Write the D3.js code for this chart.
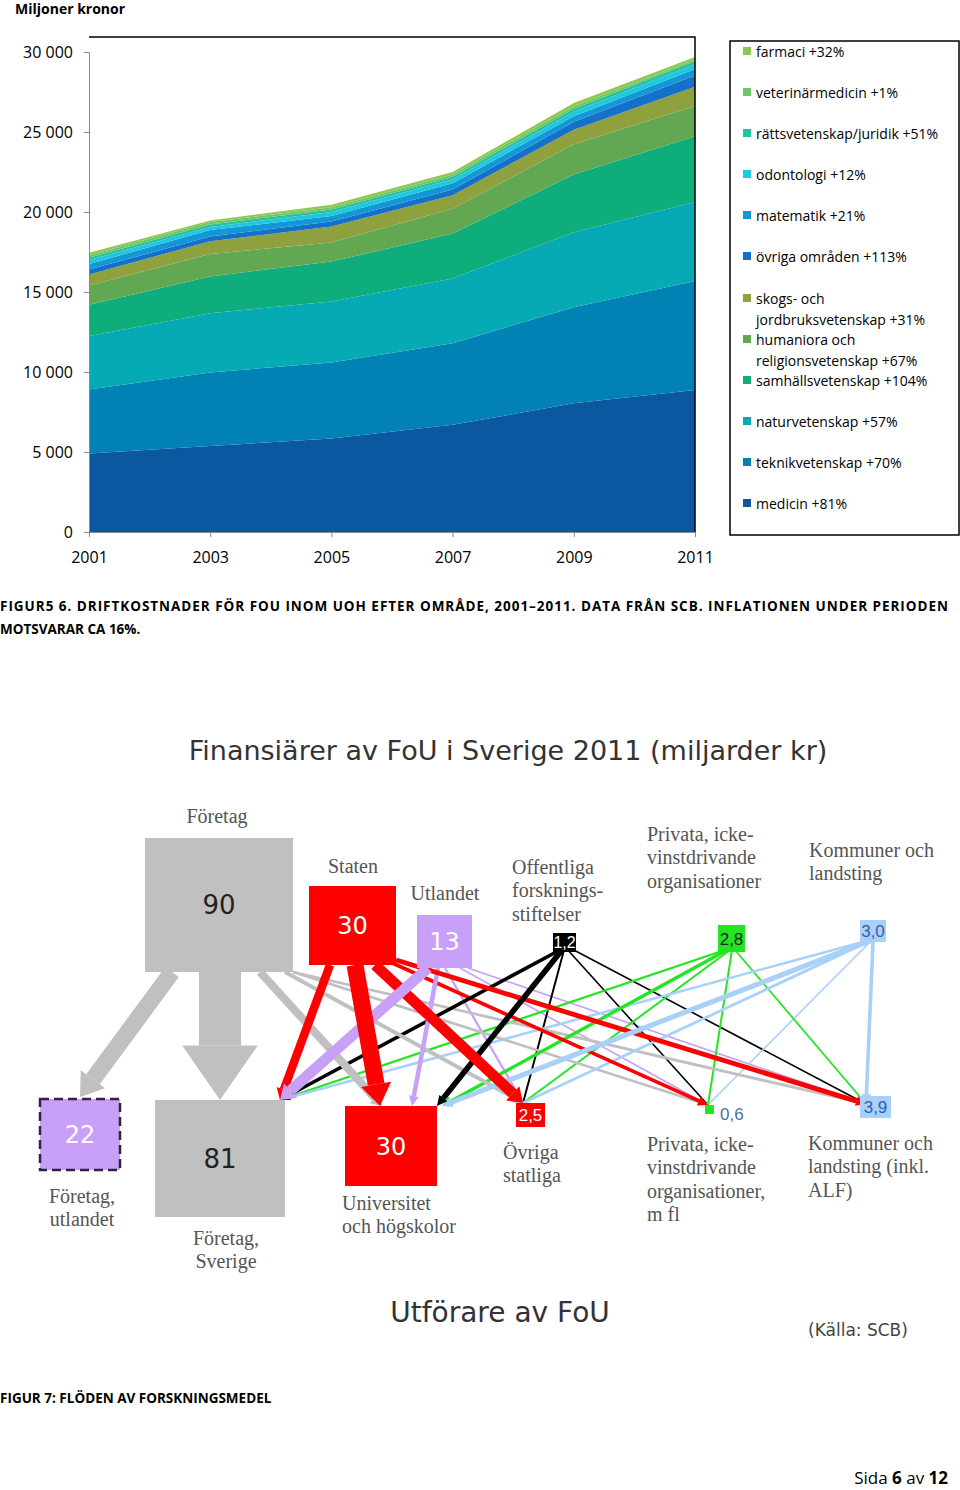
<!DOCTYPE html>
<html><head><meta charset="utf-8">
<script src="https://cdn.jsdelivr.net/npm/d3@7"></script>
<style>body{margin:0;background:#fff}svg{display:block}</style>
</head><body>
<svg id="c" width="960" height="1490"></svg>
<script>
// ---------- Area chart data ----------
const years = [2001, 2003, 2005, 2007, 2009, 2011];
const areaSeries = ["medicin","teknikvetenskap","naturvetenskap","samhällsvetenskap","humaniora","skogs","övriga","matematik","odontologi","rättsvetenskap","veterinärmedicin","farmaci"];
const medicin      = [4900, 5370, 5850, 6700, 8040, 8880];
const teknik       = [4000, 4600, 4750, 5100, 6000, 6800];
const natur        = [3350, 3700, 3800, 4050, 4700, 4950];
const samhall      = [1950, 2300, 2500, 2800, 3600, 4100];
const humaniora    = [1200, 1400, 1200, 1550, 1900, 1900];
const skogs        = [700, 800, 1000, 850, 900, 1200];
const ovriga       = [300, 300, 300, 350, 500, 700];
const matematik    = [350, 400, 350, 400, 350, 400];
const odontologi   = [250, 200, 250, 250, 270, 300];
const ratts        = [150, 150, 150, 150, 200, 200];
const veterinar    = [150, 150, 150, 150, 150, 100];
const farmaci      = [150, 100, 150, 150, 200, 150];
const seriesValues = [medicin, teknik, natur, samhall, humaniora, skogs, ovriga, matematik, odontologi, ratts, veterinar, farmaci];
const areaColors = ["#0b57a0","#0181b4","#06aab5","#0ead7b","#62a853","#8fa03f","#1470c8","#1497d6","#1ec8e0","#28c0a0","#6ec66a","#8fc850"];
const yTicks = [0, 5000, 10000, 15000, 20000, 25000, 30000];
const legendLabels = [["farmaci +32%"],["veterinärmedicin +1%"],["rättsvetenskap/juridik +51%"],["odontologi +12%"],["matematik +21%"],["övriga områden +113%"],["skogs- och","jordbruksvetenskap +31%"],["humaniora och","religionsvetenskap +67%"],["samhällsvetenskap +104%"],["naturvetenskap +57%"],["teknikvetenskap +70%"],["medicin +81%"]];

// ---------- Flow diagram data ----------
const funders = ["Företag","Staten","Utlandet","Offentliga","Privata","Kommuner"];
const funderValues = ["90","30","13","1,2","2,8","3,0"];
const performers = ["FöretagUtl","FöretagSve","Universitet","Övriga","PrivataP","KommunerP"];
const performerValues = ["22","81","30","2,5","0,6","3,9"];
// flows[funder][performer] in miljarder kr (estimated)
const flows = [
  [11, 68, 2.5, 0.6, 0.3, 0.3],
  [0, 2.8, 11, 4.5, 0.5, 0.9],
  [0, 4.5, 0.8, 0.2, 0.1, 0.1],
  [0, 0.5, 1.2, 0.15, 0.1, 0.1],
  [0, 0.2, 0.45, 0.15, 0.15, 0.12],
  [0, 0.25, 1.0, 0.3, 0.1, 0.5]
];
const funderColors = ["#c0c0c0","#ff0000","#c8a0f8","#000000","#22e622","#a8d0f8"];
const performerColors = ["#c8a0f8","#c0c0c0","#ff0000","#ff0000","#22e622","#a8d0f8"];

const svg = d3.select("#c");
const F = "'Open Sans','Liberation Sans',sans-serif";

// ---------- Area chart ----------
const x = d3.scaleLinear().domain([2001, 2011]).range([89, 695]);
const y = d3.scaleLinear().domain([0, 30000]).range([532, 52]);
const table = years.map((yr, i) => { const o = {year: yr}; areaSeries.forEach((s, k) => o[s] = seriesValues[k][i]); return o; });
const stack = d3.stack().keys(areaSeries)(table);
const area = d3.area().x(d => x(d.data.year)).y0(d => y(d[0])).y1(d => y(d[1]));
svg.append("g").selectAll("path").data(stack).join("path").attr("d", area).attr("fill", (d, i) => areaColors[i]);

svg.append("text").attr("x", 15).attr("y", 14).attr("font-family", F).attr("font-weight", "bold").attr("font-size", 14).text("Miljoner kronor");
svg.append("path").attr("d", `M89,37H695V532`).attr("fill", "none").attr("stroke", "#000").attr("stroke-width", 1.5);
const ya = svg.append("g").attr("transform", "translate(89,0)").call(d3.axisLeft(y).tickValues(yTicks).tickSize(5).tickFormat(d => d3.format(",")(d).replace(",", " ")));
ya.select(".domain").attr("stroke", "#888");
ya.selectAll("line").attr("stroke", "#888");
ya.selectAll("text").attr("font-family", F).attr("font-size", 16).attr("fill", "#000").attr("x", -16);
const xa = svg.append("g").attr("transform", "translate(0,532)").call(d3.axisBottom(x).tickValues(years).tickSize(5).tickFormat(d3.format("d")));
xa.select(".domain").attr("stroke", "#888");
xa.selectAll("line").attr("stroke", "#888");
xa.selectAll("text").attr("font-family", F).attr("font-size", 16).attr("fill", "#000").attr("dy", "1.45em");

svg.append("rect").attr("x", 730).attr("y", 41).attr("width", 229).attr("height", 494).attr("fill", "none").attr("stroke", "#000").attr("stroke-width", 1.5);
const legY = [51, 92, 133, 174, 215, 256, 298, 339, 380, 421, 462, 503];
legendLabels.forEach((lines, i) => {
  const ci = areaSeries.length - 1 - i;
  svg.append("rect").attr("x", 743).attr("y", legY[i] - 4).attr("width", 8).attr("height", 8).attr("fill", areaColors[ci]);
  lines.forEach((t, j) => svg.append("text").attr("x", 756).attr("y", legY[i] + 6 + j * 21).attr("font-family", F).attr("font-size", 14).text(t));
});

svg.append("text").attr("x", 0).attr("y", 611).attr("font-family", F).attr("font-weight", "bold").attr("font-size", 13.5).attr("textLength", 948).attr("lengthAdjust", "spacing")
  .text("FIGUR5 6. DRIFTKOSTNADER FÖR FOU INOM UOH EFTER OMRÅDE, 2001–2011. DATA FRÅN SCB. INFLATIONEN UNDER PERIODEN");
svg.append("text").attr("x", 0).attr("y", 634).attr("font-family", F).attr("font-weight", "bold").attr("font-size", 13.5).text("MOTSVARAR CA 16%.");

// ---------- Flow diagram ----------
const fBox = [[145,838,148,134],[309,886,87,79],[417,915,55,53],[553,933,23,19],[718,925,27,27],[860,920,26,22]];
const pBox = [[40,1099,80,71],[155,1100,130,117],[345,1106,92,80],[516,1103,29,24],[705,1105,9,9],[860,1096,31,22]];
const fOut = [[[172,972],[217,972],[260,972],[285,972],[293,972],[293,972]],
  [[0,0],[330,965],[355,965],[375,965],[390,962],[396,960]],
  [[0,0],[428,968],[438,968],[445,968],[460,968],[468,968]],
  [[0,0],[560,950],[562,950],[564,950],[566,948],[570,948]],
  [[0,0],[725,950],[727,950],[730,950],[732,950],[735,950]],
  [[0,0],[870,940],[872,940],[872,940],[872,940],[873,942]]];
const pIn = [[80,1099],[225,1100],[382,1106],[523,1103],[708,1105],[868,1100]];
const w = d3.scaleSqrt().domain([0, 68]).range([0, 42]);
const g = svg.append("g");
const linkData = [];
flows.forEach((row, i) => row.forEach((v, j) => { if (v > 0) linkData.push({i, j, v}); }));
linkData.sort((a, b) => a.v - b.v);
linkData.forEach(({i, j, v}) => {
  let [x1, y1] = fOut[i][j];
  let [x2, y2] = pIn[j];
  if (i === 0 && j === 1) { x1 = 220; }
  if (j === 1) x2 = 220 + (i === 0 ? 0 : 60);
  if (j === 2) x2 = 382 + [0, -2, 30, 55, 60, 60][i];
  if (j === 5) { x2 = 866; y2 = 1104; }
  if (j === 0) { x2 = 80; y2 = 1097; }
  let sw = Math.max(1, w(v));
  const col = funderColors[i];
  const dx = x2 - x1, dy = y2 - y1, L = Math.hypot(dx, dy), ux = dx / L, uy = dy / L;
  const arrow = sw >= 3;
  const ah = arrow ? Math.max(10, sw * 1.3) : 0, aw = arrow ? Math.max(sw * 1.8, 10) : 0;
  const ex = x2 - ux * ah, ey = y2 - uy * ah;
  g.append("line").attr("x1", x1).attr("y1", y1).attr("x2", ex).attr("y2", ey).attr("stroke", col).attr("stroke-width", sw).attr("opacity", sw < 1.5 ? 0.7 : 1);
  if (arrow) {
    const px = -uy, py = ux;
    g.append("polygon").attr("points", [[x2, y2], [ex + px * aw / 2, ey + py * aw / 2], [ex - px * aw / 2, ey - py * aw / 2]].map(p => p.join(",")).join(" ")).attr("fill", col);
  }
});

const SER = "'Liberation Serif','DejaVu Serif',serif";
const SAN = "'DejaVu Sans','Liberation Sans',sans-serif";
const NAR = "'Liberation Sans Narrow','Liberation Sans',sans-serif";
const numCol = ["#222","#fff","#fff","#fff","#222","#3060b0"];
fBox.forEach((b, i) => {
  svg.append("rect").attr("x", b[0]).attr("y", b[1]).attr("width", b[2]).attr("height", b[3]).attr("fill", funderColors[i]);
  const fs = [26, 24, 24, 16, 17, 17][i];
  svg.append("text").attr("x", b[0] + b[2] / 2).attr("y", b[1] + b[3] / 2 + fs * 0.36).attr("text-anchor", "middle").attr("font-family", i >= 3 ? NAR : SAN).attr("font-size", fs)
    .attr("fill", numCol[i]).text(funderValues[i]);
});
const pNumCol = ["#fff","#222","#fff","#fff","#5070a0","#3060b0"];
pBox.forEach((b, i) => {
  svg.append("rect").attr("x", b[0]).attr("y", b[1]).attr("width", b[2]).attr("height", b[3]).attr("fill", performerColors[i])
    .attr("stroke", i === 0 ? "#332244" : null).attr("stroke-width", i === 0 ? 2.5 : 0).attr("stroke-dasharray", i === 0 ? "9,5" : null);
  const fs = [24, 26, 24, 17, 17, 17][i];
  if (i === 4) {
    svg.append("text").attr("x", 720).attr("y", 1120).attr("font-family", NAR).attr("font-size", fs).attr("fill", pNumCol[i]).text(performerValues[i]);
  } else {
    svg.append("text").attr("x", b[0] + b[2] / 2).attr("y", b[1] + b[3] / 2 + fs * 0.36).attr("text-anchor", "middle").attr("font-family", i >= 3 ? NAR : SAN).attr("font-size", fs)
      .attr("fill", pNumCol[i]).text(performerValues[i]);
  }
});

const labels = [
  [["Företag"], 217, 823, "middle"],
  [["Staten"], 353, 873, "middle"],
  [["Utlandet"], 445, 900, "middle"],
  [["Offentliga","forsknings-","stiftelser"], 512, 874, "start"],
  [["Privata, icke-","vinstdrivande","organisationer"], 647, 841, "start"],
  [["Kommuner och","landsting"], 809, 857, "start"],
  [["Företag,","utlandet"], 82, 1203, "middle"],
  [["Företag,","Sverige"], 226, 1245, "middle"],
  [["Universitet","och högskolor"], 342, 1210, "start"],
  [["Övriga","statliga"], 503, 1159, "start"],
  [["Privata, icke-","vinstdrivande","organisationer,","m fl"], 647, 1151, "start"],
  [["Kommuner och","landsting (inkl.","ALF)"], 808, 1150, "start"]
];
labels.forEach(([lines, lx, ly, anc]) => lines.forEach((t, k) =>
  svg.append("text").attr("x", lx).attr("y", ly + k * 23.3).attr("text-anchor", anc).attr("font-family", SER).attr("font-size", 20).attr("fill", "#555").text(t)));

svg.append("text").attr("x", 508).attr("y", 760).attr("text-anchor", "middle").attr("font-family", SAN).attr("font-size", 27).attr("fill", "#333").text("Finansiärer av FoU i Sverige 2011 (miljarder kr)");
svg.append("text").attr("x", 500).attr("y", 1322).attr("text-anchor", "middle").attr("font-family", SAN).attr("font-size", 28).attr("fill", "#333").text("Utförare av FoU");
svg.append("text").attr("x", 858).attr("y", 1336).attr("text-anchor", "middle").attr("font-family", SAN).attr("font-size", 17).attr("fill", "#444").text("(Källa: SCB)");

svg.append("text").attr("x", 0).attr("y", 1403).attr("font-family", F).attr("font-weight", "bold").attr("font-size", 13.5).text("FIGUR 7: FLÖDEN AV FORSKNINGSMEDEL");
const pg = svg.append("text").attr("x", 948).attr("y", 1484).attr("text-anchor", "end").attr("font-family", F).attr("font-size", 17);
pg.append("tspan").text("Sida ");
pg.append("tspan").attr("font-weight", "bold").text("6");
pg.append("tspan").text(" av ");
pg.append("tspan").attr("font-weight", "bold").text("12");
</script>
</body></html>
